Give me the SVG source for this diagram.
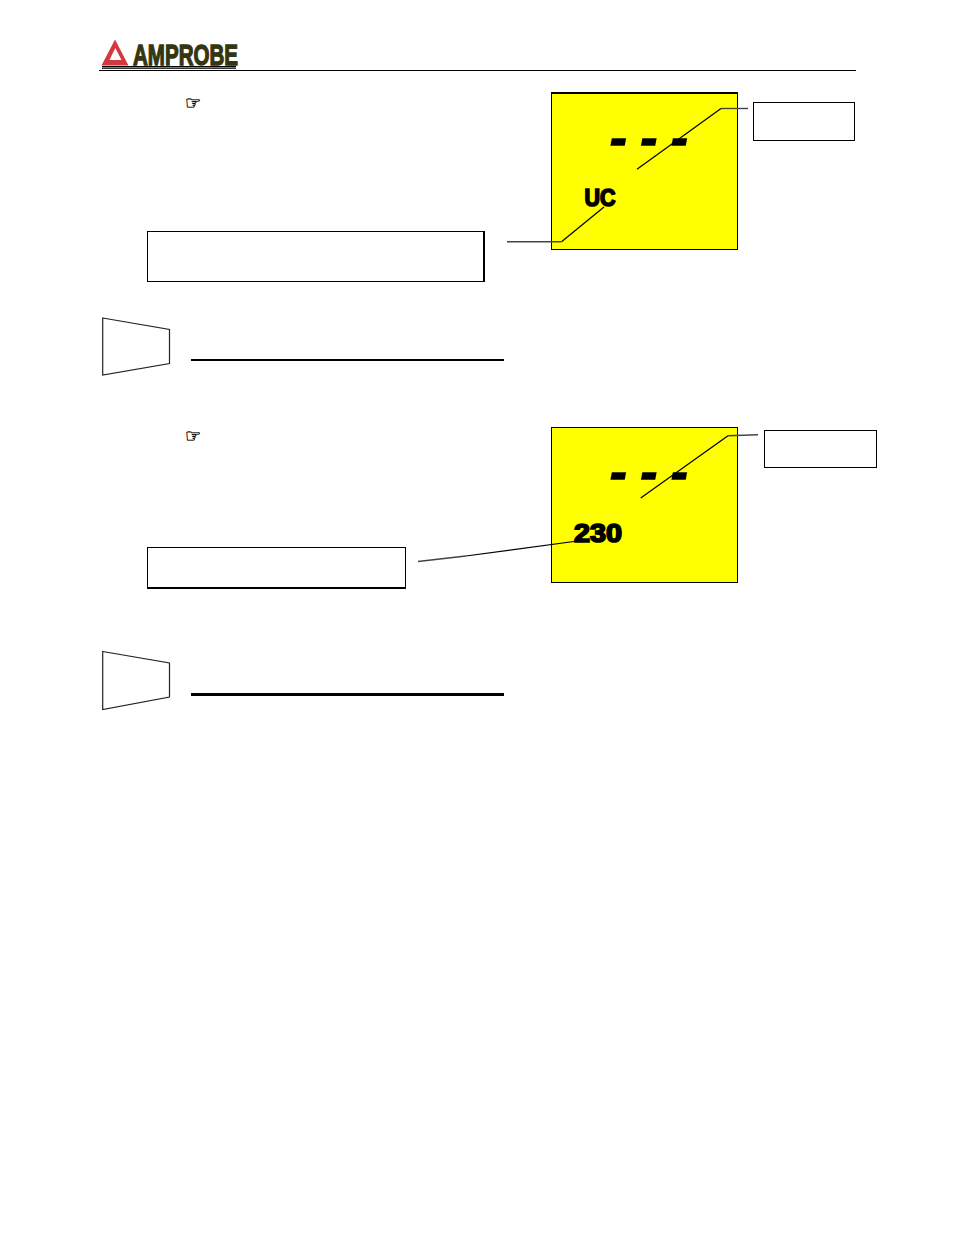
<svg xmlns="http://www.w3.org/2000/svg" width="954" height="1235" viewBox="0 0 954 1235">
<style>
.box{fill:#fff;stroke:#000;stroke-width:1}
.lcd{fill:#ff0;stroke:#000;stroke-width:1}
.trap{fill:#fff;stroke:#222;stroke-width:1.200}
.conn{fill:none;stroke:#000;stroke-width:1.200}
.lead{fill:none;stroke:#444;stroke-width:1.400}
.hand{font-family:"DejaVu Sans",sans-serif;font-size:18px;fill:#000;stroke:#000;stroke-width:.35}
.dash{font-family:"Liberation Sans",sans-serif;font-weight:bold;font-style:italic;font-size:50px;fill:#000;stroke:#000;stroke-width:1.600}
.read{font-family:"Liberation Sans",sans-serif;font-weight:bold;fill:#000;stroke:#000;stroke-width:1.700}
</style>
<rect width="954" height="1235" fill="#fff"/>
<g id="logo">
<path d="M101.500 65.500 L115 39.500 L128.500 65.500 Z M109.500 60 L121.500 60 L115.300 48 Z" fill="#d2383e" fill-rule="evenodd"/>
<text x="133" y="65" font-family="Liberation Sans, sans-serif" font-weight="bold" font-size="29" fill="#35350f" stroke="#35350f" stroke-width="1.300" textLength="105" lengthAdjust="spacingAndGlyphs">AMPROBE</text>
<rect x="102" y="66" width="134" height="1.500" fill="#000"/>
<rect x="102" y="68.200" width="134" height=".8" fill="#000"/>
<rect x="99" y="70" width="757" height="1" fill="#000"/>
</g>
<g id="hand-1"><text class="hand" x="185" y="109">☞</text></g>
<g id="hand-2"><text class="hand" x="185" y="442">☞</text></g>
<g id="display-1">
<rect class="lcd" x="551.500" y="93" width="186" height="156.500"/>
<rect x="551" y="92" width="187" height="2" fill="#000"/>
<text class="dash" x="610" y="155" xml:space="preserve">- - -</text>
<text class="read" x="584.500" y="205.500" font-size="24" textLength="31" lengthAdjust="spacingAndGlyphs">UC</text>
</g>
<g id="display-2">
<rect class="lcd" x="551.500" y="427.500" width="186" height="155"/>
<text class="dash" x="610" y="488.500" xml:space="preserve">- - -</text>
<text class="read" x="574" y="541.500" font-size="26" textLength="48" lengthAdjust="spacingAndGlyphs">230</text>
</g>
<g id="box-a"><rect class="box" x="753.500" y="102.500" width="101" height="38"/></g>
<g id="box-b"><rect class="box" x="764.500" y="430.500" width="112" height="37"/></g>
<g id="box-c"><rect class="box" x="147.500" y="231.500" width="336.500" height="50"/><rect x="483" y="231" width="2" height="51" fill="#000"/></g>
<g id="box-d"><rect class="box" x="147.500" y="547.500" width="258" height="40"/><rect x="147" y="587" width="259" height="2" fill="#000"/></g>
<g id="marker-1"><path class="trap" d="M102.700 318 L169.500 329.500 V363.500 L102.700 375 Z"/><rect x="191" y="359" width="313" height="2" fill="#000"/></g>
<g id="marker-2"><path class="trap" d="M102.700 651.500 L169.500 663 V697 L102.700 709.500 Z"/><rect x="191" y="693" width="313" height="3" fill="#000"/></g>
<g id="connectors">
<path class="conn" d="M721 108.500 L637 169.300"/><path class="lead" d="M748 108.500 H721"/>
<path class="conn" d="M561.500 241.800 L604 207"/><path class="lead" d="M507 241.800 H561.500"/>
<path class="conn" d="M728 435.800 L640.700 498"/><path class="lead" d="M758 434.800 L728 435.800"/>
<path class="conn" d="M466 556 L585 540"/><path class="lead" d="M418 561.500 L466 556"/>
</g>
</svg>
